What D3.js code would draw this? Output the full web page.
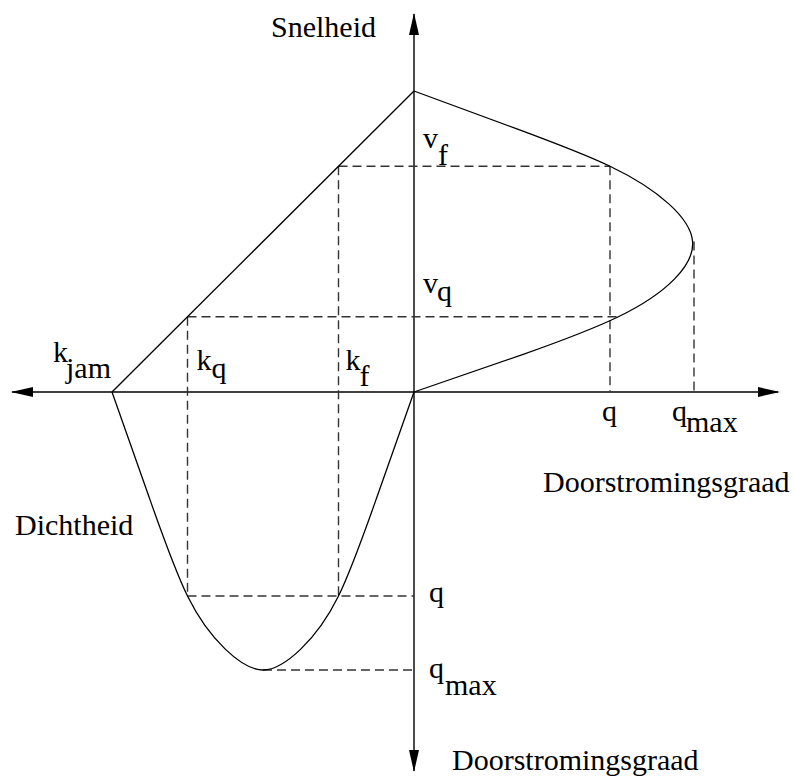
<!DOCTYPE html>
<html>
<head>
<meta charset="utf-8">
<script src="https://cdn.jsdelivr.net/npm/d3@7"></script>
<style>
  html, body { margin: 0; padding: 0; background: #fff; }
  svg { display: block; }
</style>
</head>
<body>
<svg id="chart" width="793" height="776"></svg>
<script>
// Fundamental diagram: speed–density (upper left), speed–flow (upper right),
// flow–density (lower left). Values in relative units (v_f = k_jam = q_max = 100).

// speed–density relation: [density, speed]
const speedDensity = [[100, 0], [0, 100]];

// speed–flow relation: [flow, speed]
const speedFlow = [
  [0, 100], [36.5, 87.5], [70, 75], [91, 62.5], [99.5, 50],
  [93, 37.5], [73, 25], [39, 12.5], [0, 0]
];

// flow–density relation: [density, flow]
const flowDensity = [
  [100, 0], [87.5, 38.5], [75, 73.4], [62.5, 92.5], [50, 100],
  [37.5, 92.5], [25, 73.4], [12.5, 38.5], [0, 0]
];

// characteristic values
const vF = 75, vQ = 25;             // speeds
const kF = 25, kQ = 75, kJam = 100; // densities
const qFlowTop = 70, qFlowTopAtVq = 73, qMax = 100; // flows on the speed–flow side
const qFlowBottom = 73.4;           // flow on the flow–density side

// axis titles
const axisTitles = ["Snelheid", "Doorstromingsgraad", "Dichtheid", "Doorstromingsgraad"];

const FONT = "'Liberation Serif', 'Times New Roman', Times, 'DejaVu Serif', serif";

const svg = d3.select("#chart");

const xDens = d3.scaleLinear().domain([0, 100]).range([414, 112]);
const xFlow = d3.scaleLinear().domain([0, 100]).range([414, 694]);
const ySpeed = d3.scaleLinear().domain([0, 100]).range([392, 91]);
const yFlow = d3.scaleLinear().domain([0, 100]).range([392, 670]);

const ox = xDens(0), oy = ySpeed(0);

// --- axes with arrowheads ---
const axisG = svg.append("g").attr("stroke", "#000").attr("stroke-width", 1.4);
axisG.append("line").attr("x1", 12).attr("x2", 778).attr("y1", oy).attr("y2", oy);
axisG.append("line").attr("x1", ox).attr("x2", ox).attr("y1", 14).attr("y2", 771);

const L = 22, W = 5;
const heads = [
  [[780, oy], [780 - L, oy - W], [780 - L, oy + W]],
  [[11, oy], [11 + L, oy - W], [11 + L, oy + W]],
  [[ox, 13], [ox - W, 13 + L], [ox + W, 13 + L]],
  [[ox, 772], [ox - W, 772 - L], [ox + W, 772 - L]]
];
svg.append("g").selectAll("path").data(heads).join("path")
  .attr("d", d => "M" + d.join("L") + "Z")
  .attr("fill", "#000");

// --- dashed construction lines ---
const dashes = [
  // v_f level
  [[xDens(kF), ySpeed(vF)], [xFlow(qFlowTop), ySpeed(vF)]],
  // v_q level
  [[xDens(kQ), ySpeed(vQ)], [xFlow(qFlowTopAtVq), ySpeed(vQ)]],
  // k_f and k_q down to flow q
  [[xDens(kF), ySpeed(vF)], [xDens(kF), yFlow(qFlowBottom)]],
  [[xDens(kQ), ySpeed(vQ)], [xDens(kQ), yFlow(qFlowBottom)]],
  // q on flow axis (right)
  [[xFlow(qFlowTop), ySpeed(vF)], [xFlow(qFlowTop), ySpeed(0)]],
  // q_max (right)
  [[xFlow(qMax), ySpeed(50)], [xFlow(qMax), ySpeed(0)]],
  // q level (bottom)
  [[xDens(kQ), yFlow(qFlowBottom)], [xDens(0), yFlow(qFlowBottom)]],
  // q_max level (bottom)
  [[xDens(50), yFlow(qMax)], [xDens(0), yFlow(qMax)]]
];
svg.append("g").selectAll("line").data(dashes).join("line")
  .attr("x1", d => d[0][0]).attr("y1", d => d[0][1])
  .attr("x2", d => d[1][0]).attr("y2", d => d[1][1])
  .attr("stroke", "#333").attr("stroke-width", 1.4)
  .attr("stroke-dasharray", "9,5");

// --- curves ---
const curveG = svg.append("g").attr("fill", "none").attr("stroke", "#000").attr("stroke-width", 1.3);

curveG.append("path")
  .attr("d", d3.line().x(d => xDens(d[0])).y(d => ySpeed(d[1]))(speedDensity));

curveG.append("path")
  .attr("d", d3.line().x(d => xFlow(d[0])).y(d => ySpeed(d[1]))
    .curve(d3.curveNatural)(speedFlow));

curveG.append("path")
  .attr("d", d3.line().x(d => xDens(d[0])).y(d => yFlow(d[1]))
    .curve(d3.curveNatural)(flowDensity));

// --- labels ---
const T = svg.append("g")
  .attr("font-family", FONT)
  .attr("font-size", 30)
  .attr("fill", "#000");
function label(x, y, main, sub, subDx, subDy) {
  const t = T.append("text").attr("x", x).attr("y", y).style("font-family", FONT);
  t.append("tspan").text(main);
  if (sub) t.append("tspan").attr("x", x + subDx).attr("y", y + subDy).text(sub);
}

// axis titles
label(ox - 143, 37, axisTitles[0]);
label(543, 492, axisTitles[1]);
label(15, 535, axisTitles[2]);
label(ox + 38, 770, axisTitles[3]);

// density marks
label(xDens(kJam) - 59, oy - 30, "k", "jam", 13, 16);
label(xDens(kQ) + 9, oy - 22, "k", "q", 15, 8);
label(xDens(kF) + 7, oy - 22, "k", "f", 14, 16);

// speed marks
label(ox + 9, ySpeed(vF) - 18, "v", "f", 15, 17);
label(ox + 9, ySpeed(vQ) - 24, "v", "q", 14, 8);

// flow marks (right)
label(xFlow(qFlowTop) - 8, oy + 29, "q");
label(xFlow(qMax) - 22, oy + 29, "q", "max", 14, 11);

// flow marks (bottom)
label(ox + 15, yFlow(qFlowBottom) + 6, "q");
label(ox + 15, yFlow(qMax) + 8, "q", "max", 16, 17);
</script>
</body>
</html>
